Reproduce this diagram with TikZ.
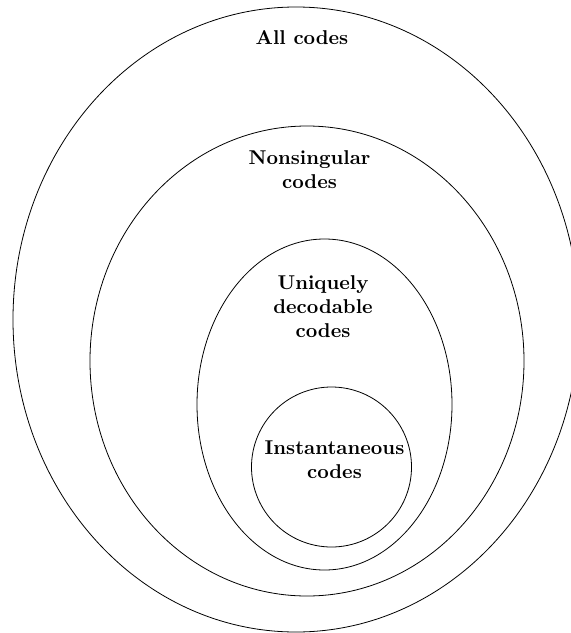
\documentclass[tikz,border=0pt]{standalone}
\usetikzlibrary{shapes.geometric}
\begin{document}
\begin{tikzpicture}[x=0.5pt,y=-0.5pt,
  set/.style={draw, ellipse, inner sep=0pt, line width=0.4pt},
  lbl/.style={font=\bfseries, align=center, anchor=base, inner sep=0pt}]
\useasboundingbox (0,0) rectangle (571,633);
\clip (0,0) rectangle (571,633);
\node[set, minimum width=283pt, minimum height=312.5pt] (all) at (296,319.5) {};
\node[set, minimum width=217pt, minimum height=235pt] (nons) at (307,361) {};
\node[set, minimum width=127.5pt, minimum height=165.5pt] (uniq) at (324.5,404.5) {};
\node[set, minimum width=80pt, minimum height=80pt] (inst) at (331.5,467) {};
\node[lbl] (tall) at (302,44) {All codes};
\node[lbl] (tnons) at (309.5,188) {Nonsingular\\codes};
\node[lbl] (tuniq) at (323,337) {Uniquely\\decodable\\codes};
\node[lbl] (tinst) at (334.5,478) {Instantaneous\\codes};
\end{tikzpicture}
\end{document}
